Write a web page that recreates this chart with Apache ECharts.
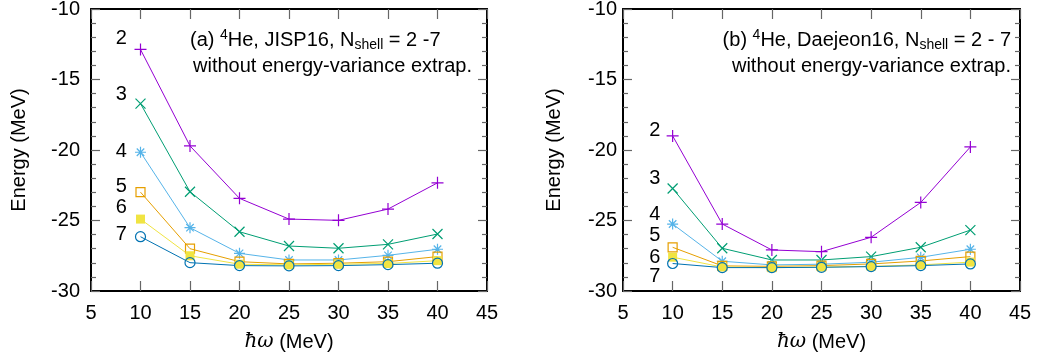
<!DOCTYPE html>
<html>
<head>
<meta charset="utf-8">
<script src="https://cdn.jsdelivr.net/npm/echarts@6/dist/echarts.min.js"></script>
<style>
  html, body { margin: 0; padding: 0; background: #fff; }
  #chart { width: 1039px; height: 362px; }
</style>
</head>
<body>
<div id="chart"></div>
<script>
// hbar-omega grid (MeV)
const hw = [10, 15, 20, 25, 30, 35, 40];
const nshell = ['2', '3', '4', '5', '6', '7'];

// (a) JISP16
const jispN2 = [-12.87, -19.71, -23.43, -24.9, -24.99, -24.19, -22.33];
const jispN3 = [-16.71, -22.96, -25.8, -26.81, -26.97, -26.69, -25.96];
const jispN4 = [-20.16, -25.51, -27.33, -27.8, -27.8, -27.47, -27.04];
const jispN5 = [-22.99, -27.0, -27.92, -28.08, -28.03, -27.92, -27.56];
const jispN6 = [-24.9, -27.5, -28.1, -28.15, -28.1, -28.05, -27.85];
const jispN7 = [-26.15, -27.99, -28.2, -28.22, -28.2, -28.13, -28.03];

// (b) Daejeon16
const daejN2 = [-19.0, -25.25, -27.09, -27.21, -26.19, -23.72, -19.78];
const daejN3 = [-22.73, -26.97, -27.8, -27.8, -27.56, -26.9, -25.68];
const daejN4 = [-25.25, -27.89, -28.15, -28.1, -27.96, -27.61, -27.04];
const daejN5 = [-26.9, -28.22, -28.25, -28.2, -28.08, -27.87, -27.56];
const daejN6 = [-27.6, -28.3, -28.35, -28.3, -28.25, -28.15, -27.95];
const daejN7 = [-28.05, -28.34, -28.34, -28.32, -28.27, -28.2, -28.08];

// where the N_shell numbers sit
const labelXa = 8.05;
const labelYa = [-12.09, -16.05, -20.08, -22.56, -24.05, -25.96];
const labelXb = 8.2;
const labelYb = [-18.6, -21.99, -24.54, -26.03, -27.59, -29.0];

const colors = ['#9400d3', '#009e73', '#56b4e9', '#e69f00', '#f0e442', '#0072b2'];
const FONT = '"Liberation Sans", Arial, Helvetica, sans-serif';
const FS = 20;

const markers = [
  { symbol: 'path://M0,5L10,5M5,0L5,10', size: 12, fill: false },
  { symbol: 'path://M0,0L10,10M10,0L0,10', size: 10, fill: false },
  { symbol: 'path://M0,5L10,5M5,0L5,10M1.6,1.6L8.4,8.4M8.4,1.6L1.6,8.4', size: 11, fill: false },
  { symbol: 'rect', size: 9, fill: false },
  { symbol: 'rect', size: 9, fill: true },
  { symbol: 'circle', size: 10, fill: false }
];

const panelA = [jispN2, jispN3, jispN4, jispN5, jispN6, jispN7];
const panelB = [daejN2, daejN3, daejN4, daejN5, daejN6, daejN7];

function lineSeries(values, i, gi) {
  const m = markers[i];
  return {
    type: 'line',
    name: 'N=' + nshell[i],
    xAxisIndex: gi * 2,
    yAxisIndex: gi * 2,
    data: hw.map((x, k) => [x, values[k]]),
    symbol: m.symbol,
    symbolSize: m.size,
    showAllSymbol: true,
    lineStyle: { color: colors[i], width: 1 },
    itemStyle: {
      color: m.fill ? colors[i] : 'none',
      borderColor: colors[i],
      borderWidth: m.fill ? 0 : 1.2
    },
    emphasis: { disabled: true },
    silent: true,
    z: 3
  };
}

function labelSeries(xPos, yPos, gi) {
  return {
    type: 'scatter',
    xAxisIndex: gi * 2,
    yAxisIndex: gi * 2,
    symbol: 'circle',
    symbolSize: 1,
    itemStyle: { color: 'rgba(255,255,255,0)' },
    silent: true,
    data: yPos.map((y, k) => ({ name: nshell[k], value: [xPos, y] })),
    label: {
      show: true,
      position: 'inside',
      formatter: p => p.name,
      color: '#000',
      textBorderWidth: 0,
      opacity: 1,
      fontSize: FS,
      fontFamily: FONT
    },
    z: 4
  };
}

const tickStyle = { color: '#666', width: 1.2 };
const frameStyle = { color: '#000', width: 2 };

function xAxes(gi) {
  return [
    {
      gridIndex: gi, type: 'value', min: 5, max: 45, interval: 5, position: 'bottom',
      name: '{it|ħω} (MeV)', nameLocation: 'middle', nameGap: 41,
      nameTextStyle: {
        color: '#000', fontSize: FS, fontFamily: FONT,
        rich: { it: { fontStyle: 'italic', fontSize: FS, fontFamily: '"DejaVu Serif", serif', color: '#000' } }
      },
      axisLine: { show: true, onZero: false, lineStyle: frameStyle },
      axisTick: { show: true, inside: true, length: 10, lineStyle: tickStyle },
      axisLabel: { color: '#000', fontSize: FS, fontFamily: FONT, margin: 12, showMaxLabel: true, showMinLabel: true },
      splitLine: { show: false }
    },
    {
      gridIndex: gi, type: 'value', min: 5, max: 45, interval: 5, position: 'top',
      axisLine: { show: true, onZero: false, lineStyle: frameStyle },
      axisTick: { show: true, inside: true, length: 10, lineStyle: tickStyle },
      axisLabel: { show: false },
      splitLine: { show: false }
    }
  ];
}

function yAxes(gi, labelMargin, nameGap) {
  return [
    {
      gridIndex: gi, type: 'value', min: -30, max: -10, interval: 5, position: 'left',
      name: 'Energy (MeV)', nameLocation: 'middle', nameGap: nameGap, nameRotate: 90,
      nameTextStyle: { color: '#000', fontSize: FS, fontFamily: FONT },
      axisLine: { show: true, onZero: false, lineStyle: frameStyle },
      axisTick: { show: true, inside: true, length: 9, lineStyle: tickStyle },
      minorTick: { show: true, splitNumber: 5, length: 5, lineStyle: tickStyle },
      axisLabel: { color: '#000', fontSize: FS, fontFamily: FONT, margin: labelMargin, showMaxLabel: true, showMinLabel: true },
      splitLine: { show: false },
      minorSplitLine: { show: false }
    },
    {
      gridIndex: gi, type: 'value', min: -30, max: -10, interval: 5, position: 'right',
      axisLine: { show: true, onZero: false, lineStyle: frameStyle },
      axisTick: { show: true, inside: true, length: 9, lineStyle: tickStyle },
      minorTick: { show: true, splitNumber: 5, length: 5, lineStyle: tickStyle },
      axisLabel: { show: false },
      splitLine: { show: false },
      minorSplitLine: { show: false }
    }
  ];
}

const series = [];
panelA.forEach((v, i) => series.push(lineSeries(v, i, 0)));
panelB.forEach((v, i) => series.push(lineSeries(v, i, 1)));
series.push(labelSeries(labelXa, labelYa, 0));
series.push(labelSeries(labelXb, labelYb, 1));

const rich = {
  sup: { fontSize: 14, fontFamily: FONT, color: '#000', lineHeight: 14, verticalAlign: 'top' },
  sub: { fontSize: 14, fontFamily: FONT, color: '#000', lineHeight: 14, verticalAlign: 'bottom' }
};

function annot(text, x, y, align) {
  return {
    type: 'text', x: x, y: y, silent: true, z: 10,
    style: {
      text: text, x: 0, y: 0, align: align, verticalAlign: 'middle',
      fill: '#000', fontSize: FS, fontFamily: FONT, lineHeight: 24, rich: rich
    }
  };
}

const option = {
  animation: false,
  backgroundColor: '#fff',
  grid: [
    { left: 91, top: 9, width: 396, height: 282, outerBoundsMode: 'none', containLabel: false },
    { left: 623, top: 9, width: 397, height: 282, outerBoundsMode: 'none', containLabel: false }
  ],
  xAxis: [...xAxes(0), ...xAxes(1)],
  yAxis: [...yAxes(0, 11, 62), ...yAxes(1, 6, 59)],
  series: series,
  graphic: [
    annot('(a) {sup|4}He, JISP16, N{sub|shell} = 2 -7', 190, 40, 'left'),
    annot('without energy-variance extrap.', 193, 66, 'left'),
    annot('(b) {sup|4}He, Daejeon16, N{sub|shell} = 2 - 7', 1011, 40, 'right'),
    annot('without energy-variance extrap.', 1011, 66, 'right')
  ]
};

const chart = echarts.init(document.getElementById('chart'), null, { renderer: 'canvas' });
chart.setOption(option);
</script>
</body>
</html>
